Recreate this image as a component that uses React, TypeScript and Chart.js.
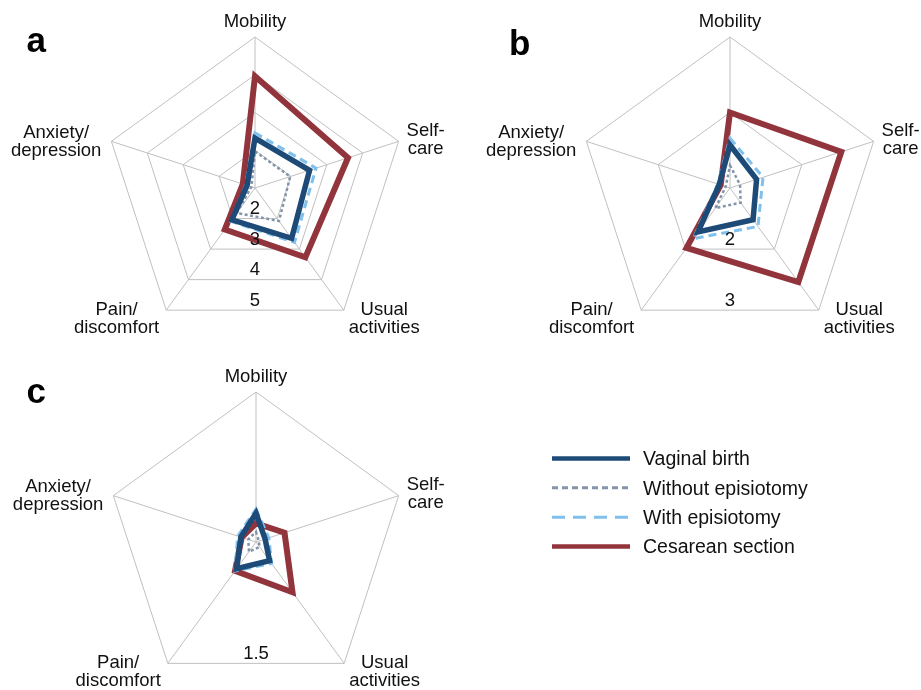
import React, { useEffect, useRef } from 'react';
import { Chart, registerables } from 'chart.js';

Chart.register(...registerables);

// ---------- data ----------
const axisLabels: string[][] = [
  ['Mobility'],
  ['Self-', 'care'],
  ['Usual', 'activities'],
  ['Pain/', 'discomfort'],
  ['Anxiety/', 'depression'],
];
const seriesNames = ['Vaginal birth', 'Without episiotomy', 'With episiotomy', 'Cesarean section'];

// panel a (scale 1–5)
const vaginalA = [2.32, 2.52, 2.65, 2.04, 1.22];
const withoutA = [1.97, 1.98, 2.08, 1.82, 1.1];
const withA = [2.46, 2.7, 2.78, 2.09, 1.26];
const cesareanA = [3.96, 3.59, 3.27, 2.36, 1.34];
const ticksA = [1, 2, 3, 4, 5];

// panel b (scale 1–3)
const vaginalB = [1.57, 1.37, 1.52, 1.72, 1.15];
const withoutB = [1.3, 1.14, 1.24, 1.33, 1.06];
const withB = [1.66, 1.46, 1.63, 1.83, 1.17];
const cesareanB = [2.0, 2.55, 2.54, 1.98, 1.13];
const ticksB = [1, 2, 3];

// panel c (scale 1–1.5)
const vaginalC = [1.096, 1.032, 1.077, 1.11, 1.053];
const withoutC = [1.034, 1.01, 1.02, 1.04, 1.027];
const withC = [1.11, 1.045, 1.088, 1.12, 1.064];
const cesareanC = [1.062, 1.1, 1.207, 1.119, 1.05];
const ticksC = [1, 1.5];

// ---------- styles ----------
const FONT = '"Liberation Sans", Arial, Helvetica, sans-serif';
const seriesColors = ['#1d4a76', '#8494aa', '#7fc0ec', '#92343b'];
const seriesWidths = [5.5, 2.5, 3, 6];
const seriesDash: number[][] = [[], [3, 2.5], [8, 5], []];
const legendWidths = [4.5, 3, 3, 4.5];
const legendDash: number[][] = [[], [6, 4], [13, 8], []];
const gridColor = '#c0c0c0';
const textColor = '#111111';

const labelGap = [0, 8, 5, 7, 10];
const labelDy = [-10.5, -5.6, 4.8, 4.8, -3.6];
const labelLineHeight = 18;

type PanelDef = {
  letter: string;
  letterX: number;
  letterY: number;
  series: number[][];
  ticks: number[];
  box: { left: number; top: number; width: number; height: number };
  area: { left: number; top: number; size: number };
  legend: boolean;
};

const panels: PanelDef[] = [
  {
    letter: 'a', letterX: 26.5, letterY: 52,
    series: [vaginalA, withoutA, withA, cesareanA], ticks: ticksA,
    box: { left: 0, top: 0, width: 460, height: 345 },
    area: { left: 104, top: 37, size: 302 },
    legend: false,
  },
  {
    letter: 'b', letterX: 49, letterY: 55,
    series: [vaginalB, withoutB, withB, cesareanB], ticks: ticksB,
    box: { left: 460, top: 0, width: 461, height: 345 },
    area: { left: 119, top: 37, size: 302 },
    legend: false,
  },
  {
    letter: 'c', letterX: 26.5, letterY: 58,
    series: [vaginalC, withoutC, withC, cesareanC], ticks: ticksC,
    box: { left: 0, top: 345, width: 921, height: 355 },
    area: { left: 106, top: 47, size: 300 },
    legend: true,
  },
];

const legendBox = { lineX0: 552, lineX1: 630, textX: 643, firstY: 113.4, rowGap: 29.4 };

function makePlugin(def: PanelDef) {
  return {
    id: 'panelDecor',
    afterDraw(chart: any) {
      const ctx: CanvasRenderingContext2D = chart.ctx;
      const s = chart.scales.r;
      ctx.save();
      // axis labels
      ctx.fillStyle = textColor;
      ctx.font = `18.5px ${FONT}`;
      ctx.textAlign = 'center';
      ctx.textBaseline = 'alphabetic';
      axisLabels.forEach((lines, i) => {
        const p = s.getPointPosition(i, s.drawingArea);
        const w = Math.max(...lines.map((l) => ctx.measureText(l).width));
        let cx = p.x;
        if (i > 0) {
          cx = p.x > s.xCenter ? p.x + labelGap[i] + w / 2 : p.x - labelGap[i] - w / 2;
        }
        const by = p.y + labelDy[i];
        lines.forEach((l, k) => ctx.fillText(l, cx, by + k * labelLineHeight));
      });
      // tick labels along the bottom
      ctx.textBaseline = 'middle';
      s.ticks.forEach((t: any, idx: number) => {
        if (idx === 0) return;
        const d = s.getDistanceFromCenterForValue(t.value);
        const y = s.yCenter + d * Math.cos(Math.PI / 5) - 9.5;
        ctx.fillText(t.label != null ? String(t.label) : String(t.value), s.xCenter, y);
      });
      // panel letter
      ctx.font = `bold 35px ${FONT}`;
      ctx.textAlign = 'left';
      ctx.textBaseline = 'alphabetic';
      ctx.fillStyle = '#000';
      ctx.fillText(def.letter, def.letterX, def.letterY);
      // legend
      if (def.legend) {
        chart.data.datasets.forEach((ds: any, i: number) => {
          const y = legendBox.firstY + i * legendBox.rowGap;
          ctx.beginPath();
          ctx.strokeStyle = ds.borderColor;
          ctx.lineWidth = legendWidths[i];
          ctx.setLineDash(legendDash[i]);
          ctx.lineCap = 'butt';
          ctx.moveTo(legendBox.lineX0, y);
          ctx.lineTo(legendBox.lineX1, y);
          ctx.stroke();
          ctx.setLineDash([]);
          ctx.fillStyle = textColor;
          ctx.font = `19.5px ${FONT}`;
          ctx.textBaseline = 'middle';
          ctx.fillText(ds.label, legendBox.textX, y + 1.5);
        });
      }
      ctx.restore();
    },
  };
}

function RadarPanel({ def }: { def: PanelDef }) {
  const ref = useRef<HTMLCanvasElement>(null);
  useEffect(() => {
    const canvas = ref.current;
    if (!canvas) return;
    const pad = {
      left: def.area.left,
      top: def.area.top,
      right: def.box.width - def.area.left - def.area.size,
      bottom: def.box.height - def.area.top - def.area.size,
    };
    const chart = new Chart(canvas, {
      type: 'radar',
      data: {
        labels: axisLabels.map((l) => l.join(' ')),
        datasets: seriesNames.map((name, i) => ({
          label: name,
          data: def.series[i],
          borderColor: seriesColors[i],
          backgroundColor: 'transparent',
          borderWidth: seriesWidths[i],
          borderDash: seriesDash[i],
          borderJoinStyle: 'miter',
          borderCapStyle: 'butt',
          fill: false,
          pointRadius: 0,
          pointHoverRadius: 0,
          tension: 0,
        })),
      },
      options: {
        responsive: false,
        animation: false,
        devicePixelRatio: 1,
        events: [],
        layout: { padding: pad },
        plugins: { legend: { display: false }, tooltip: { enabled: false } },
        scales: {
          r: {
            min: def.ticks[0],
            max: def.ticks[def.ticks.length - 1],
            afterBuildTicks: (scale: any) => {
              scale.ticks = def.ticks.map((v) => ({ value: v }));
            },
            ticks: { display: false },
            pointLabels: { display: false },
            grid: { color: gridColor, lineWidth: 1 },
            angleLines: { color: gridColor, lineWidth: 1 },
          },
        },
      } as any,
      plugins: [makePlugin(def)],
    } as any);
    return () => chart.destroy();
  }, [def]);
  return (
    <canvas
      ref={ref}
      width={def.box.width}
      height={def.box.height}
      style={{
        position: 'absolute',
        left: def.box.left,
        top: def.box.top,
        width: def.box.width,
        height: def.box.height,
      }}
    />
  );
}

export default function App() {
  return (
    <div
      style={{
        position: 'absolute',
        left: 0,
        top: 0,
        width: 921,
        height: 690,
        overflow: 'hidden',
        background: '#fff',
      }}
    >
      {panels.map((p) => (
        <RadarPanel key={p.letter} def={p} />
      ))}
    </div>
  );
}
